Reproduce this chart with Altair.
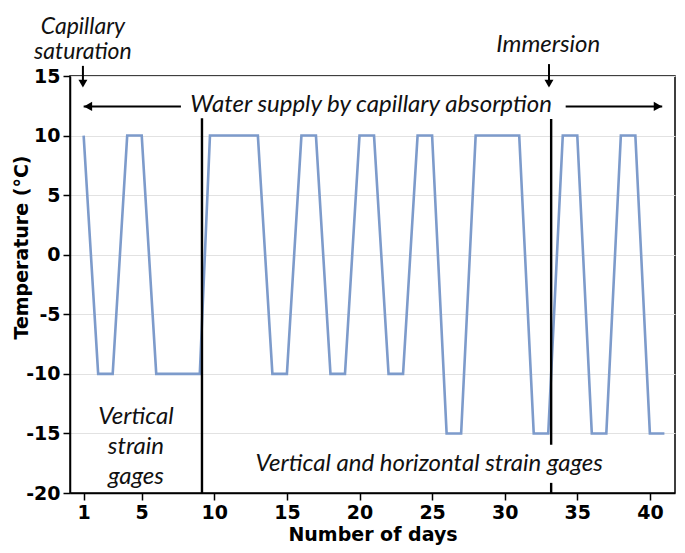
import altair as alt
import pandas as pd

# ---- data ----
days = [1, 2, 3, 4, 5, 6, 9, 9.7, 13, 14, 15, 16, 17, 18, 19, 20, 21, 22, 23, 24, 25,
        26, 27, 28, 31, 32, 33, 34, 35, 36, 37, 38, 39, 40, 41]
temps = [10, -10, -10, 10, 10, -10, -10, 10, 10, -10, -10, 10, 10, -10, -10, 10, 10, -10,
         -10, 10, 10, -15, -15, 10, 10, -15, -15, 10, 10, -15, -15, 10, 10, -15, -15]

x_ticks = [1, 5, 10, 15, 20, 25, 30, 35, 40]
y_ticks = [-20, -15, -10, -5, 0, 5, 10, 15]

# separator lines (day, top value, bottom value)
sep_x = [9.15, 33.2, 33.2]
sep_top = [11.45, 11.4, -19.15]
sep_bot = [-20, -15.95, -20]

# annotation texts (y is the first line)
ann_text = ["Immersion", "Water supply by capillary absorption",
            "Vertical and horizontal strain gages"]
ann_x = [33.0, 20.8, 24.8]
ann_y = [17.6, 12.6, -17.55]

cap_text = ["Capillary\nsaturation"]
cap_x = [0.95]
cap_y = [19.15]

vs_text = ["Vertical\nstrain\ngages"]
vs_x = [4.6]
vs_y = [-13.6]

# arrows
h_arrow_x = [7.7, 34.2]
h_arrow_x2 = [1.0, 40.85]
h_arrow_y = [12.45, 12.45]
h_head_shape = ["triangle-left", "triangle-right"]
h_head_x = [1.3, 40.55]

v_arrow_x = [0.95, 33.05]
v_arrow_y = [15.85, 16.0]
v_arrow_y2 = [14.2, 14.2]
v_head_y = [14.35, 14.35]

XDOM = [0.06, 41.73]
YDOM = [-20, 15]

xs = alt.Scale(domain=XDOM, nice=False, zero=False)
ys = alt.Scale(domain=YDOM, nice=False, zero=False)

series = pd.DataFrame({"day": days, "temp": temps})

line = alt.Chart(series).mark_line(color="#7d9bcb", strokeWidth=2.6).encode(
    x=alt.X("day:Q", scale=xs,
            axis=alt.Axis(values=x_ticks, title="Number of days", grid=False,
                          titlePadding=3)),
    y=alt.Y("temp:Q", scale=ys,
            axis=alt.Axis(values=y_ticks, title="Temperature (°C)", grid=True,
                          labelExpr="toString(datum.value)",
                          titleX=-43, titleY=171, titleAngle=-90,
                          titleBaseline="alphabetic", titleAlign="center")),
)

sep_df = pd.DataFrame({"x": sep_x, "y": sep_top, "y2": sep_bot})
seps = alt.Chart(sep_df).mark_rule(color="black", strokeWidth=2.4).encode(
    x=alt.X("x:Q", scale=xs), y=alt.Y("y:Q", scale=ys), y2="y2:Q")

harr_df = pd.DataFrame({"x": h_arrow_x, "x2": h_arrow_x2, "y": h_arrow_y})
harr = alt.Chart(harr_df).mark_rule(color="black", strokeWidth=2).encode(
    x=alt.X("x:Q", scale=xs), x2="x2:Q", y=alt.Y("y:Q", scale=ys))

hhead_df = pd.DataFrame({"x": h_head_x, "y": h_arrow_y, "shape": h_head_shape})
hhead = alt.Chart(hhead_df).mark_point(filled=True, color="black", size=90, opacity=1).encode(
    x=alt.X("x:Q", scale=xs), y=alt.Y("y:Q", scale=ys),
    shape=alt.Shape("shape:N", scale=None))

varr_df = pd.DataFrame({"x": v_arrow_x, "y": v_arrow_y, "y2": v_arrow_y2})
varr = alt.Chart(varr_df).mark_rule(color="black", strokeWidth=2).encode(
    x=alt.X("x:Q", scale=xs), y=alt.Y("y:Q", scale=ys), y2="y2:Q")

vhead_df = pd.DataFrame({"x": v_arrow_x, "y": v_head_y})
vhead = alt.Chart(vhead_df).mark_point(filled=True, color="black", size=80, opacity=1,
                                       shape="triangle-down").encode(
    x=alt.X("x:Q", scale=xs), y=alt.Y("y:Q", scale=ys))


def text_layer(xv, yv, tv, lh, fs=24):
    df = pd.DataFrame({"x": xv, "y": yv, "t": tv})
    return alt.Chart(df).mark_text(
        font="Lato", fontStyle="italic", fontSize=fs, color="#111111", align="center",
        lineBreak="\n", lineHeight=lh, baseline="middle").encode(
        x=alt.X("x:Q", scale=xs), y=alt.Y("y:Q", scale=ys), text="t:N")


ann_main = text_layer(ann_x, ann_y, ann_text, 27)
ann_cap = text_layer(cap_x, cap_y, cap_text, 25, 23)
ann_vs = text_layer(vs_x, vs_y, vs_text, 30)

chart = alt.layer(line, seps, harr, hhead, varr, vhead, ann_main, ann_cap, ann_vs).properties(
    width=605, height=417,
    autosize=alt.AutoSizeParams(type="none"),
    padding={"left": 62, "top": 68, "right": 2, "bottom": 52},
).configure_view(
    stroke="black", strokeWidth=1.5
).configure_axis(
    labelFont="DejaVu Sans", labelFontWeight="bold", labelFontSize=19, labelColor="black",
    titleFont="DejaVu Sans", titleFontWeight="bold", titleFontSize=19, titleColor="black",
    domainColor="black", domainWidth=1.5, tickColor="black", tickWidth=1.5,
    tickSize=7, labelPadding=3, gridColor="#e2e2e2", gridWidth=1.2,
)

chart.save("out.html", embed_options={"renderer": "svg", "actions": False})
